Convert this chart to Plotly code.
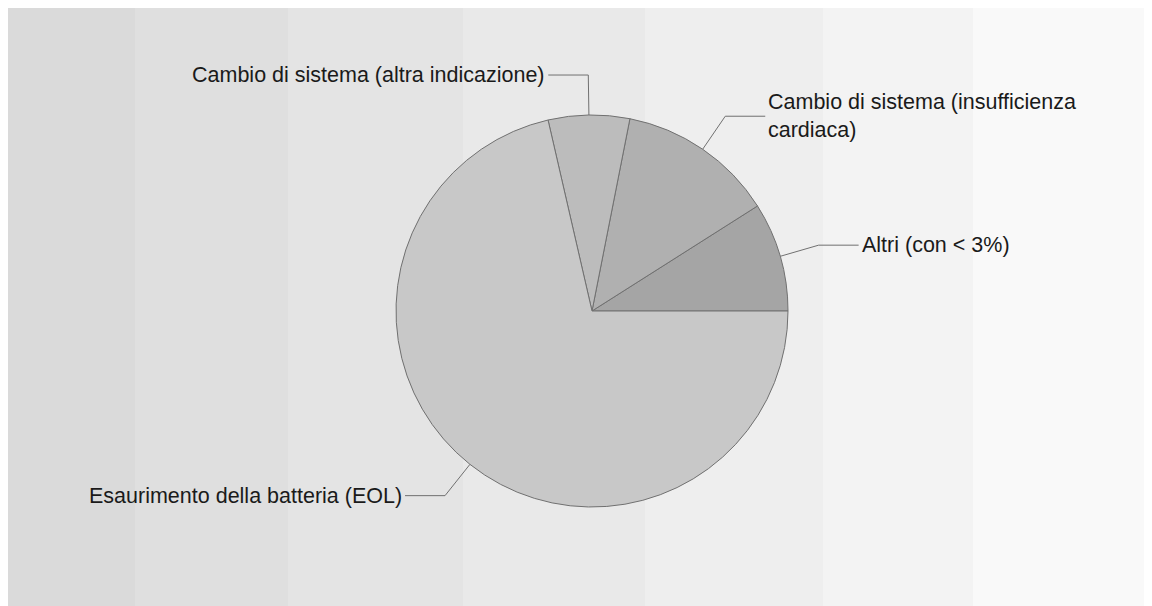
import math
import plotly.graph_objects as go

# ---- data ----
labels = [
    "Altri (con < 3%)",
    "Cambio di sistema (insufficienza<br>cardiaca)",
    "Cambio di sistema (altra indicazione)",
    "Esaurimento della batteria (EOL)",
]
values = [9.0, 12.9, 6.7, 71.4]

# ---- style ----
slice_colors = ["#a5a5a5", "#b0b0b0", "#bcbcbc", "#c8c8c8"]
band_edges_px = [0, 127, 280, 455, 637, 815, 965, 1144]
band_colors = ["#dadada", "#dfdfdf", "#e4e4e4", "#e9e9e9", "#eeeeee", "#f3f3f3", "#f9f9f9"]

W, H = 1144, 598
CX, CY, R = 584, 303, 196          # pie centre / radius in figure pixels (from top-left)
ELBOW = 40                         # radial leader length
HSEG = 40                          # horizontal leader length
FONT = dict(family="Liberation Sans, Arial, sans-serif", size=21.5, color="#1a1a1a")

def px(x):
    return x / W

def py(y):
    return 1 - y / H

total = sum(values)
# plotly's counterclockwise pies end the first slice at `rotation`;
# shift so the first slice starts at 3 o'clock
rotation = 90 - values[0] / total * 360

fig = go.Figure()
fig.add_trace(go.Pie(
    labels=labels,
    values=values,
    sort=False,
    direction="counterclockwise",
    rotation=rotation,
    textinfo="none",
    showlegend=False,
    marker=dict(colors=slice_colors, line=dict(color="#707070", width=1)),
    domain=dict(x=[px(CX - R), px(CX + R)], y=[py(CY + R), py(CY - R)]),
    hoverinfo="label+percent",
))

shapes = []
for i, c in enumerate(band_colors):
    shapes.append(dict(type="rect", xref="paper", yref="paper", layer="below",
                       x0=px(band_edges_px[i]), x1=px(band_edges_px[i + 1]), y0=0, y1=1,
                       fillcolor=c, line=dict(width=0)))

annotations = []
cum = 0.0
for lab, v in zip(labels, values):
    mid = (cum + v / 2) / total * 2 * math.pi
    cum += v
    ca, sa = math.cos(mid), math.sin(mid)
    x0, y0 = CX + R * ca, CY - R * sa
    x1, y1 = CX + (R + ELBOW) * ca, CY - (R + ELBOW) * sa
    side = 1 if ca >= 0 else -1
    x2 = x1 + side * HSEG
    shapes.append(dict(type="path", xref="paper", yref="paper",
                       path=f"M {px(x0)},{py(y0)} L {px(x1)},{py(y1)} L {px(x2)},{py(y1)}",
                       line=dict(color="#707070", width=1)))
    annotations.append(dict(xref="paper", yref="paper", x=px(x2 + side * 1), y=py(y1),
                            text=lab, showarrow=False, align="left",
                            xanchor="left" if side > 0 else "right", yanchor="middle",
                            font=FONT))

fig.update_layout(
    width=W, height=H,
    margin=dict(l=0, r=0, t=0, b=0),
    paper_bgcolor="#ffffff",
    plot_bgcolor="#ffffff",
    shapes=shapes,
    annotations=annotations,
)

fig.write_html("out.html")
